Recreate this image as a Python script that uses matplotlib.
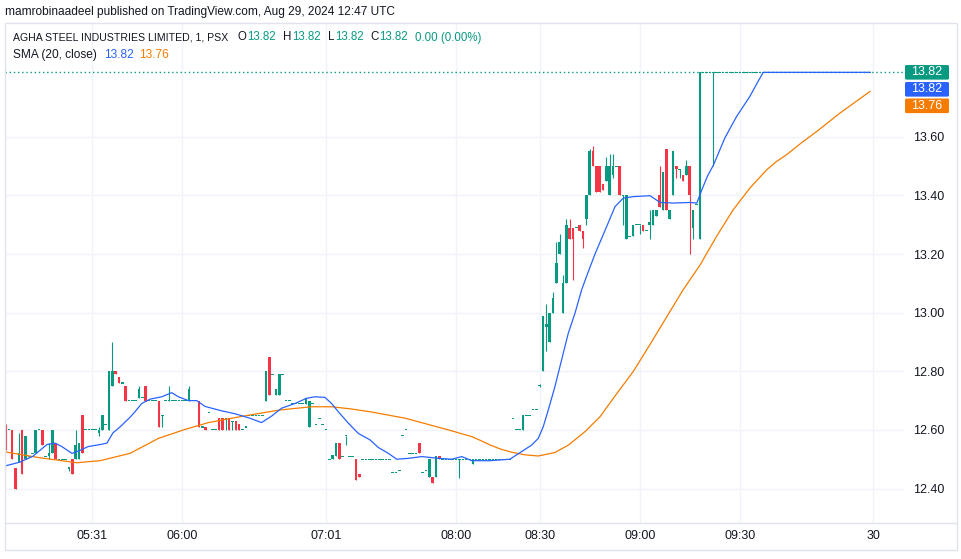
import numpy as np
import matplotlib
matplotlib.use("Agg")
import matplotlib.pyplot as plt
from matplotlib.patches import FancyBboxPatch, Rectangle
from matplotlib.lines import Line2D

plt.rcParams['font.family'] = ['Liberation Sans', 'DejaVu Sans']

# ---------------- data (1-minute bars, bar index 0 = 05:31) ----------------
first_bar = -26
opens = [
    12.61, 12.60, 12.60, 12.47, 12.49, 12.60, 12.50, 12.51, 12.52, 12.52,
    12.60, 12.60, 12.51, 12.51, 12.52, 12.555, 12.50, 12.50, 12.50, 12.47,
    12.50, 12.50, 12.50, 12.65, 12.60, 12.60, 12.60, 12.60, 12.59, 12.60,
    12.62, 12.60, 12.75, 12.80, 12.78, 12.76, 12.75, 12.70, 12.70, 12.70,
    12.71, 12.71, 12.75, 12.70, 12.70, 12.70, 12.70, 12.65, 12.70, 12.70,
    12.70, 12.70, 12.70, 12.70, 12.70, 12.70, 12.70, 12.70, 12.70, 12.61,
    12.61, 12.66, 12.60, 12.60, 12.64, 12.64, 12.64, 12.64, 12.63, 12.63,
    12.62, 12.60, 12.61, 12.65, 12.65, 12.65, 12.65, 12.65, 12.70, 12.85,
    12.79, 12.72, 12.72, 12.79, 12.70, 12.70, 12.69, 12.69, 12.69, 12.69,
    12.69, 12.61, 12.69, 12.62, 12.64, 12.62, 12.60, 12.50, 12.50, 12.51,
    12.555, 12.51, 12.58, 12.51, 12.51, 12.50, 12.45, 12.50, 12.50, 12.50,
    12.50, 12.50, 12.50, 12.50, 12.50, 12.50, 12.455, 12.455, 12.46, 12.58,
    12.60, 12.52, 12.52, 12.52, 12.555, 12.455, 12.46, 12.44, 12.44, 12.44,
    12.51, 12.50, 12.50, 12.50, 12.50, 12.50, 12.50, 12.50, 12.50, 12.50,
    12.485, 12.50, 12.50, 12.50, 12.50, 12.50, 12.50, 12.50, 12.50, 12.50,
    12.50, 12.50, 12.64, 12.60, 12.60, 12.60, 12.65, 12.65, 12.67, 12.67,
    12.75, 12.80, 12.95, 12.90, 13.00, 13.10, 13.20, 13.00, 13.10, 13.29,
    13.29, 13.29, 13.30, 13.28, 13.32, 13.40, 13.55, 13.50, 13.50, 13.44,
    13.45, 13.40, 13.47, 13.50, 13.50, 13.40, 13.25, 13.26, 13.26, 13.30,
    13.30, 13.30, 13.28, 13.30, 13.30, 13.33, 13.40, 13.35, 13.56, 13.32,
    13.40, 13.50, 13.49, 13.47, 13.47, 13.50, 13.29, 13.37, 13.25, 13.82,
    13.82, 13.82, 13.82, 13.82, 13.82, 13.82, 13.82, 13.82, 13.82, 13.82,
    13.82, 13.82, 13.82, 13.82, 13.82, 13.82, 13.82, 13.82, 13.82, 13.82,
    13.82, 13.82, 13.82, 13.82, 13.82, 13.82, 13.82, 13.82, 13.82, 13.82,
    13.82, 13.82, 13.82, 13.82, 13.82, 13.82, 13.82, 13.82, 13.82, 13.82,
    13.82, 13.82, 13.82, 13.82, 13.82, 13.82, 13.82, 13.82, 13.82, 13.82,
]
highs = [
    12.62, 12.60, 12.60, 12.47, 12.59, 12.60, 12.58, 12.51, 12.52, 12.60,
    12.60, 12.60, 12.51, 12.555, 12.60, 12.555, 12.50, 12.50, 12.50, 12.47,
    12.50, 12.60, 12.555, 12.65, 12.60, 12.60, 12.60, 12.60, 12.61, 12.65,
    12.62, 12.80, 12.90, 12.80, 12.78, 12.76, 12.75, 12.70, 12.70, 12.70,
    12.75, 12.71, 12.75, 12.70, 12.70, 12.70, 12.70, 12.65, 12.70, 12.75,
    12.70, 12.70, 12.70, 12.70, 12.70, 12.75, 12.70, 12.70, 12.70, 12.61,
    12.61, 12.66, 12.60, 12.60, 12.64, 12.64, 12.64, 12.64, 12.63, 12.63,
    12.62, 12.60, 12.61, 12.65, 12.65, 12.65, 12.65, 12.65, 12.80, 12.85,
    12.79, 12.74, 12.79, 12.79, 12.70, 12.70, 12.69, 12.69, 12.69, 12.69,
    12.71, 12.70, 12.69, 12.62, 12.64, 12.62, 12.60, 12.50, 12.515, 12.555,
    12.555, 12.51, 12.58, 12.51, 12.51, 12.50, 12.45, 12.50, 12.50, 12.50,
    12.50, 12.50, 12.50, 12.50, 12.50, 12.50, 12.455, 12.455, 12.46, 12.58,
    12.60, 12.52, 12.52, 12.52, 12.555, 12.455, 12.46, 12.50, 12.44, 12.51,
    12.51, 12.50, 12.50, 12.50, 12.50, 12.50, 12.50, 12.50, 12.50, 12.50,
    12.50, 12.50, 12.50, 12.50, 12.50, 12.50, 12.50, 12.50, 12.50, 12.50,
    12.50, 12.50, 12.64, 12.60, 12.60, 12.65, 12.65, 12.65, 12.67, 12.67,
    12.755, 12.99, 13.03, 13.00, 13.07, 13.24, 13.27, 13.13, 13.32, 13.32,
    13.29, 13.29, 13.30, 13.28, 13.40, 13.56, 13.57, 13.50, 13.50, 13.44,
    13.53, 13.54, 13.54, 13.50, 13.50, 13.40, 13.40, 13.26, 13.30, 13.30,
    13.30, 13.30, 13.28, 13.35, 13.35, 13.35, 13.50, 13.48, 13.56, 13.35,
    13.55, 13.50, 13.49, 13.47, 13.52, 13.50, 13.35, 13.37, 13.82, 13.82,
    13.82, 13.82, 13.82, 13.82, 13.82, 13.82, 13.82, 13.82, 13.82, 13.82,
    13.82, 13.82, 13.82, 13.82, 13.82, 13.82, 13.82, 13.82, 13.82, 13.82,
    13.82, 13.82, 13.82, 13.82, 13.82, 13.82, 13.82, 13.82, 13.82, 13.82,
    13.82, 13.82, 13.82, 13.82, 13.82, 13.82, 13.82, 13.82, 13.82, 13.82,
    13.82, 13.82, 13.82, 13.82, 13.82, 13.82, 13.82, 13.82, 13.82, 13.82,
]
lows = [
    12.53, 12.60, 12.50, 12.40, 12.49, 12.45, 12.50, 12.51, 12.52, 12.52,
    12.60, 12.55, 12.51, 12.50, 12.52, 12.50, 12.50, 12.50, 12.50, 12.46,
    12.45, 12.50, 12.50, 12.52, 12.60, 12.60, 12.60, 12.60, 12.58, 12.60,
    12.62, 12.60, 12.75, 12.79, 12.76, 12.76, 12.70, 12.70, 12.70, 12.70,
    12.71, 12.71, 12.70, 12.70, 12.70, 12.70, 12.61, 12.61, 12.70, 12.70,
    12.70, 12.70, 12.70, 12.70, 12.70, 12.70, 12.70, 12.70, 12.61, 12.61,
    12.60, 12.66, 12.60, 12.60, 12.60, 12.60, 12.60, 12.60, 12.60, 12.60,
    12.60, 12.60, 12.61, 12.65, 12.65, 12.65, 12.65, 12.65, 12.70, 12.72,
    12.79, 12.72, 12.72, 12.79, 12.70, 12.70, 12.69, 12.69, 12.69, 12.69,
    12.69, 12.61, 12.69, 12.62, 12.64, 12.62, 12.60, 12.50, 12.50, 12.51,
    12.50, 12.51, 12.55, 12.51, 12.51, 12.43, 12.44, 12.50, 12.50, 12.50,
    12.50, 12.50, 12.50, 12.50, 12.50, 12.50, 12.455, 12.455, 12.46, 12.58,
    12.60, 12.52, 12.52, 12.52, 12.52, 12.455, 12.46, 12.44, 12.42, 12.44,
    12.50, 12.50, 12.50, 12.50, 12.50, 12.50, 12.435, 12.50, 12.50, 12.50,
    12.485, 12.50, 12.50, 12.50, 12.50, 12.50, 12.50, 12.50, 12.50, 12.50,
    12.50, 12.50, 12.64, 12.60, 12.60, 12.60, 12.65, 12.65, 12.67, 12.67,
    12.745, 12.80, 12.87, 12.90, 13.00, 13.10, 13.20, 13.00, 13.10, 13.25,
    13.11, 13.29, 13.28, 13.22, 13.30, 13.40, 13.50, 13.41, 13.41, 13.42,
    13.45, 13.40, 13.46, 13.50, 13.40, 13.30, 13.25, 13.26, 13.26, 13.30,
    13.27, 13.28, 13.28, 13.25, 13.30, 13.33, 13.36, 13.35, 13.35, 13.32,
    13.40, 13.46, 13.46, 13.45, 13.47, 13.20, 13.25, 13.37, 13.25, 13.82,
    13.82, 13.82, 13.50, 13.82, 13.82, 13.82, 13.82, 13.82, 13.82, 13.82,
    13.82, 13.82, 13.82, 13.82, 13.82, 13.82, 13.82, 13.82, 13.82, 13.82,
    13.82, 13.82, 13.82, 13.82, 13.82, 13.82, 13.82, 13.82, 13.82, 13.82,
    13.82, 13.82, 13.82, 13.82, 13.82, 13.82, 13.82, 13.82, 13.82, 13.82,
    13.82, 13.82, 13.82, 13.82, 13.82, 13.82, 13.82, 13.82, 13.82, 13.82,
]
closes = [
    12.54, 12.60, 12.50, 12.40, 12.52, 12.45, 12.58, 12.51, 12.52, 12.60,
    12.60, 12.55, 12.51, 12.52, 12.60, 12.50, 12.50, 12.50, 12.50, 12.47,
    12.45, 12.55, 12.555, 12.52, 12.60, 12.60, 12.60, 12.60, 12.60, 12.65,
    12.62, 12.80, 12.80, 12.79, 12.76, 12.76, 12.70, 12.70, 12.70, 12.70,
    12.74, 12.71, 12.70, 12.70, 12.70, 12.70, 12.61, 12.65, 12.70, 12.70,
    12.70, 12.70, 12.70, 12.70, 12.70, 12.74, 12.70, 12.70, 12.61, 12.61,
    12.60, 12.66, 12.60, 12.60, 12.60, 12.60, 12.64, 12.60, 12.63, 12.60,
    12.60, 12.60, 12.61, 12.65, 12.65, 12.65, 12.65, 12.65, 12.80, 12.72,
    12.79, 12.74, 12.79, 12.79, 12.70, 12.70, 12.69, 12.69, 12.69, 12.69,
    12.71, 12.70, 12.69, 12.62, 12.64, 12.62, 12.60, 12.50, 12.515, 12.555,
    12.50, 12.51, 12.58, 12.51, 12.51, 12.43, 12.44, 12.50, 12.50, 12.50,
    12.50, 12.50, 12.50, 12.50, 12.50, 12.50, 12.455, 12.455, 12.46, 12.58,
    12.60, 12.52, 12.52, 12.52, 12.52, 12.455, 12.46, 12.50, 12.42, 12.51,
    12.50, 12.50, 12.50, 12.50, 12.50, 12.50, 12.50, 12.50, 12.50, 12.50,
    12.50, 12.50, 12.50, 12.50, 12.50, 12.50, 12.50, 12.50, 12.50, 12.50,
    12.50, 12.50, 12.64, 12.60, 12.60, 12.65, 12.65, 12.65, 12.67, 12.67,
    12.75, 12.99, 12.96, 13.00, 13.05, 13.17, 13.24, 13.10, 13.30, 13.25,
    13.25, 13.29, 13.28, 13.25, 13.40, 13.55, 13.50, 13.41, 13.41, 13.42,
    13.50, 13.50, 13.50, 13.50, 13.40, 13.40, 13.40, 13.26, 13.30, 13.30,
    13.30, 13.28, 13.28, 13.31, 13.35, 13.35, 13.36, 13.48, 13.35, 13.35,
    13.55, 13.49, 13.49, 13.45, 13.50, 13.40, 13.35, 13.37, 13.82, 13.82,
    13.82, 13.82, 13.82, 13.82, 13.82, 13.82, 13.82, 13.82, 13.82, 13.82,
    13.82, 13.82, 13.82, 13.82, 13.82, 13.82, 13.82, 13.82, 13.82, 13.82,
    13.82, 13.82, 13.82, 13.82, 13.82, 13.82, 13.82, 13.82, 13.82, 13.82,
    13.82, 13.82, 13.82, 13.82, 13.82, 13.82, 13.82, 13.82, 13.82, 13.82,
    13.82, 13.82, 13.82, 13.82, 13.82, 13.82, 13.82, 13.82, 13.82, 13.82,
]

# SMA(20, close) line at bar positions
sma_bars = [-26.15, -21.7, -17.8, -13.6, -11.2, -9.1, -6.1, -3.7, -1.3, 2.3, 4.4,
            6.2, 8.3, 11.3, 12.8, 14.8, 17.3, 20.8, 23.8, 25.8, 28.8, 31.3,
            33.8, 38.8, 42.8, 47.2, 50.7, 53.7, 56.7, 60.7, 64.2, 66.7, 69.7,
            71.7, 73.7, 76.7, 79.7, 83.2, 85.7, 88.7, 91.2, 94.7, 98.7, 103.7,
            107.7, 110.7, 113.7, 119.1, 125.1, 128.6, 131.6, 133.6, 135.1,
            136.6, 138.6, 140.6, 142.6, 144.6, 146.6, 148.6, 150.6, 154.1,
            156.6, 159.1, 162.1, 167.1, 170.1, 174.1, 179.1, 181.1, 182.6,
            184.3, 186.1, 189.5, 193.0, 197.0, 199.5, 201.0, 233.0]
sma_vals = [12.477, 12.49, 12.51, 12.55, 12.555, 12.543, 12.52, 12.53, 12.543,
            12.55, 12.555, 12.59, 12.61, 12.643, 12.662, 12.69, 12.705, 12.713,
            12.727, 12.713, 12.70, 12.70, 12.68, 12.665, 12.655, 12.64, 12.625,
            12.647, 12.674, 12.69, 12.708, 12.713, 12.711, 12.69, 12.662,
            12.623, 12.588, 12.566, 12.54, 12.52, 12.50, 12.503, 12.509,
            12.503, 12.50, 12.509, 12.495, 12.495, 12.50, 12.526, 12.548,
            12.571, 12.611, 12.668, 12.748, 12.839, 12.93, 12.998, 13.078,
            13.14, 13.20, 13.294, 13.362, 13.391, 13.396, 13.399, 13.376,
            13.374, 13.376, 13.374, 13.419, 13.466, 13.504, 13.596, 13.669,
            13.738, 13.79, 13.82, 13.82]

# smoothing line (orange)
smooth_bars = [-26.15, -15.7, -4.6, 2.3, 11.3, 19.8, 27.3, 34.8, 41.8, 47.2,
               56.2, 65.7, 71.7, 77.2, 83.2, 93.7, 106.7, 113.7, 116.5, 119.1,
               122.2, 125.6, 129.6, 133.6, 138.6, 142.6, 147.6, 152.1, 156.1,
               162.1, 167.0, 172.1, 177.0, 182.1, 187.0, 192.0, 197.0, 202.0,
               205.0, 208.0, 212.5, 217.0, 224.0, 233.0]
smooth_vals = [12.525, 12.505, 12.488, 12.495, 12.52, 12.571, 12.60, 12.625,
               12.64, 12.651, 12.668, 12.679, 12.679, 12.672, 12.662, 12.64,
               12.60, 12.577, 12.563, 12.549, 12.535, 12.524, 12.515, 12.511,
               12.523, 12.548, 12.594, 12.645, 12.708, 12.80, 12.89, 12.986,
               13.078, 13.163, 13.26, 13.351, 13.425, 13.487, 13.516, 13.539,
               13.58, 13.618, 13.681, 13.755]

time_tick_bars = [0, 27, 70, 109, 134, 164, 194, 234]
time_tick_labels = ['05:31', '06:00', '07:01', '08:00', '08:30', '09:00', '09:30', '30']
price_ticks = [12.40, 12.60, 12.80, 13.00, 13.20, 13.40, 13.60]

sma_last = 13.82
smooth_last = 13.76

# ---------------- styling ----------------
UP = '#089981'
DOWN = '#F23645'
BLUE = '#2962FF'
ORANGE = '#F57C00'
TXT = '#131722'
GRID = '#F0F3FA'
BORDER = '#E0E3EB'

W, H = 961, 559
fig = plt.figure(figsize=(W / 100, H / 100), dpi=100)
fig.patch.set_facecolor('white')


def fx(x):
    return x / W


def fy(y):
    return 1 - y / H


ax = fig.add_axes([fx(5), fy(523), fx(904) - fx(5), fy(23) - fy(523)])
ax.set_xlim(-26.15, 243.17)
ax.set_ylim(12.2824, 13.9883)
for s in ax.spines.values():
    s.set_visible(False)

O = np.array(opens)
Hh = np.array(highs)
L = np.array(lows)
C = np.array(closes)
idx = np.arange(first_bar, first_bar + len(C))
up = C >= O
cols = np.where(up, UP, DOWN)

min_h = 0.0036
body_lo = np.minimum(O, C)
body_h = np.abs(C - O)
doji = body_h < min_h
body_lo = np.where(doji, (O + C) / 2 - min_h / 2, body_lo)
body_h = np.where(doji, min_h, body_h)

ax.vlines(idx, L, Hh, colors=cols, linewidth=0.8, zorder=3)
ax.bar(idx, body_h, bottom=body_lo, width=0.78, color=cols, linewidth=0, zorder=3)

ax.plot(smooth_bars, smooth_vals, color=ORANGE, linewidth=0.9, zorder=4)
ax.plot(sma_bars, sma_vals, color=BLUE, linewidth=0.9, zorder=4)

ax.axhline(C[-1], color=UP, linewidth=1, linestyle=(0, (1, 2)), zorder=2)

ax.set_yticks(price_ticks)
ax.set_yticklabels([f'{p:.2f}' for p in price_ticks])
ax.yaxis.tick_right()
ax.set_xticks(time_tick_bars)
ax.set_xticklabels(time_tick_labels)
ax.tick_params(axis='y', length=0, pad=6.5, labelsize=9, labelcolor=TXT)
ax.tick_params(axis='x', length=0, pad=5, labelsize=9, labelcolor=TXT)
ax.grid(True, color=GRID, linewidth=1)
ax.set_axisbelow(True)

# frame
fig.add_artist(Rectangle((fx(5), fy(550)), fx(957) - fx(5), fy(23) - fy(550),
                         transform=fig.transFigure, fill=False, edgecolor=BORDER, linewidth=1))
fig.add_artist(Line2D([fx(5), fx(957)], [fy(523), fy(523)], transform=fig.transFigure,
                      color=BORDER, linewidth=1))

# price labels on the axis
y_last = H - ax.transData.transform((0, C[-1]))[1]
boxes = [(y_last, UP, f'{C[-1]:.2f}'),
         (y_last + 17, BLUE, f'{sma_last:.2f}'),
         (y_last + 33.5, ORANGE, f'{smooth_last:.2f}')]
for yc, col, txt in boxes:
    fig.add_artist(FancyBboxPatch((fx(905), fy(yc + 7.3)), fx(44), 14.6 / H,
                                  boxstyle='round,pad=0,rounding_size=0.002',
                                  transform=fig.transFigure, facecolor=col, edgecolor='none'))
    fig.text(fx(927), fy(yc), txt, color='white', ha='center', va='center', fontsize=9)

# header texts
renderer = fig.canvas.get_renderer()
fig.text(fx(5), fy(11.7), 'mamrobinaadeel published on TradingView.com, Aug 29, 2024 12:47 UTC',
         color=TXT, fontsize=8.6, va='center', ha='left')
y1 = 37.5
fig.text(fx(13), fy(y1), 'AGHA STEEL INDUSTRIES LIMITED, 1, PSX', color=TXT, fontsize=7.6,
         va='center', ha='left')
for lab, xl in [('O', 238), ('H', 283), ('L', 328), ('C', 370)]:
    t = fig.text(fx(xl), fy(y1), lab, color=TXT, fontsize=8.3, va='center', ha='left')
    w = t.get_window_extent(renderer).width
    fig.text(fx(xl + w + 0.5), fy(y1), f'{C[-1]:.2f}', color=UP, fontsize=8.3,
             va='center', ha='left')
chg = C[-1] - C[-2]
fig.text(fx(415), fy(y1), f'{chg:.2f} ({chg / C[-2] * 100:.2f}%)', color=UP, fontsize=8.3,
         va='center', ha='left')
y2 = 55
fig.text(fx(13), fy(y2), 'SMA (20, close)', color=TXT, fontsize=8.6, va='center', ha='left')
fig.text(fx(104), fy(y2), f'{sma_last:.2f}', color=BLUE, fontsize=8.6, va='center', ha='left')
fig.text(fx(139), fy(y2), f'{smooth_last:.2f}', color=ORANGE, fontsize=8.6, va='center', ha='left')

fig.savefig('out.png', dpi=100)
